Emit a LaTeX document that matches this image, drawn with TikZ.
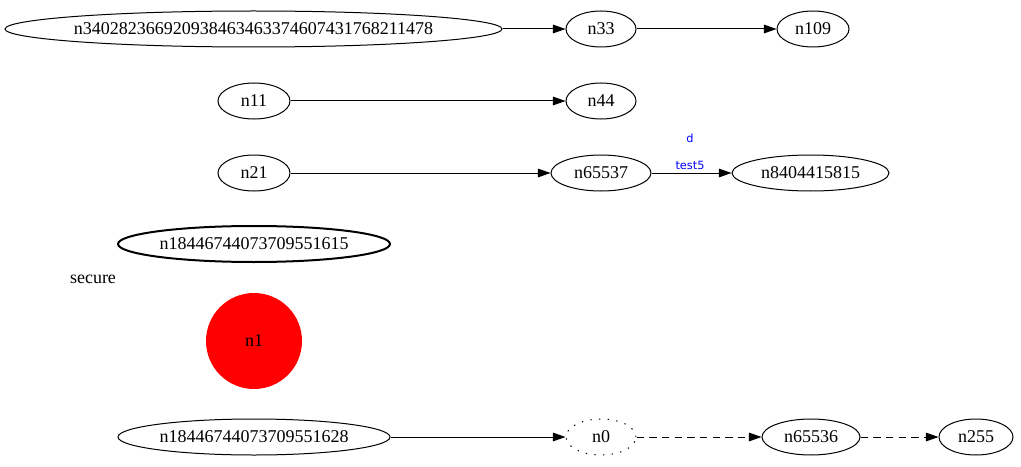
\documentclass[tikz,border=0pt]{standalone}
\usepackage{fontspec}
\setmainfont{Liberation Serif}
\newfontfamily\labfont{DejaVu Sans}
\usetikzlibrary{shapes.geometric,arrows.meta}
\def\px{0.75pt}
\tikzset{
  gfont/.style={font=\fontsize{13.5}{15}\selectfont},
  gnode/.style={ellipse,draw,line width=0.75pt,inner sep=0pt,minimum height=36*\px,gfont},
  gedge/.style={line width=0.75pt,-{Triangle[length=9.5pt,width=6.5pt]}},
  dedge/.style={gedge,dash pattern=on 5.5pt off 4pt},
  elabel/.style={font=\labfont\fontsize{8.5}{9}\selectfont,text=blue,inner sep=0pt},
}
\begin{document}
\begin{tikzpicture}[x=0.75pt,y=-0.75pt]
\useasboundingbox (0,0) rectangle (1021,467);
\node[gnode,minimum width=497*\px,inner xsep=-12pt] (big) at (253.5,29) {n340282366920938463463374607431768211478};
\node[gnode,minimum width=70*\px] (n33) at (601,29) {n33};
\node[gnode,minimum width=72*\px] (n109) at (813,29) {n109};
\node[gnode,minimum width=72*\px] (n11) at (254,101) {n11};
\node[gnode,minimum width=70*\px] (n44) at (601,101) {n44};
\node[gnode,minimum width=72*\px] (n21) at (254,173) {n21};
\node[gnode,minimum width=100*\px] (n65537) at (601,173) {n65537};
\node[gnode,minimum width=157*\px] (n840) at (810.5,173) {n8404415815};
\node[gnode,minimum width=272*\px,line width=1.5pt] (n1615) at (254,244) {n18446744073709551615};
\node[gfont,inner sep=0pt] (secure) at (93,279) {secure};
\node[circle,fill=red,inner sep=0pt,minimum size=96*\px,gfont] (n1) at (254,341) {n1};
\node[gnode,minimum width=272*\px] (n1628) at (254,437) {n18446744073709551628};
\node[gnode,minimum width=70*\px,dash pattern=on 1pt off 5.5pt] (n0) at (601,437) {n0};
\node[gnode,minimum width=98*\px] (n65536) at (811,437) {n65536};
\node[gnode,minimum width=74*\px] (n255) at (976,437) {n255};
\draw[gedge] (big) -- (n33);
\draw[gedge] (n33) -- (n109);
\draw[gedge] (n11) -- (n44);
\draw[gedge] (n21) -- (n65537);
\draw[gedge] (n65537) -- (n840);
\node[elabel] (lblt) at (690,165) {test5};
\node[elabel] (lbld) at (690,138) {d};
\draw[gedge] (n1628) -- (n0);
\draw[dedge] (n0) -- (n65536);
\draw[dedge] (n65536) -- (n255);
\end{tikzpicture}
\end{document}
